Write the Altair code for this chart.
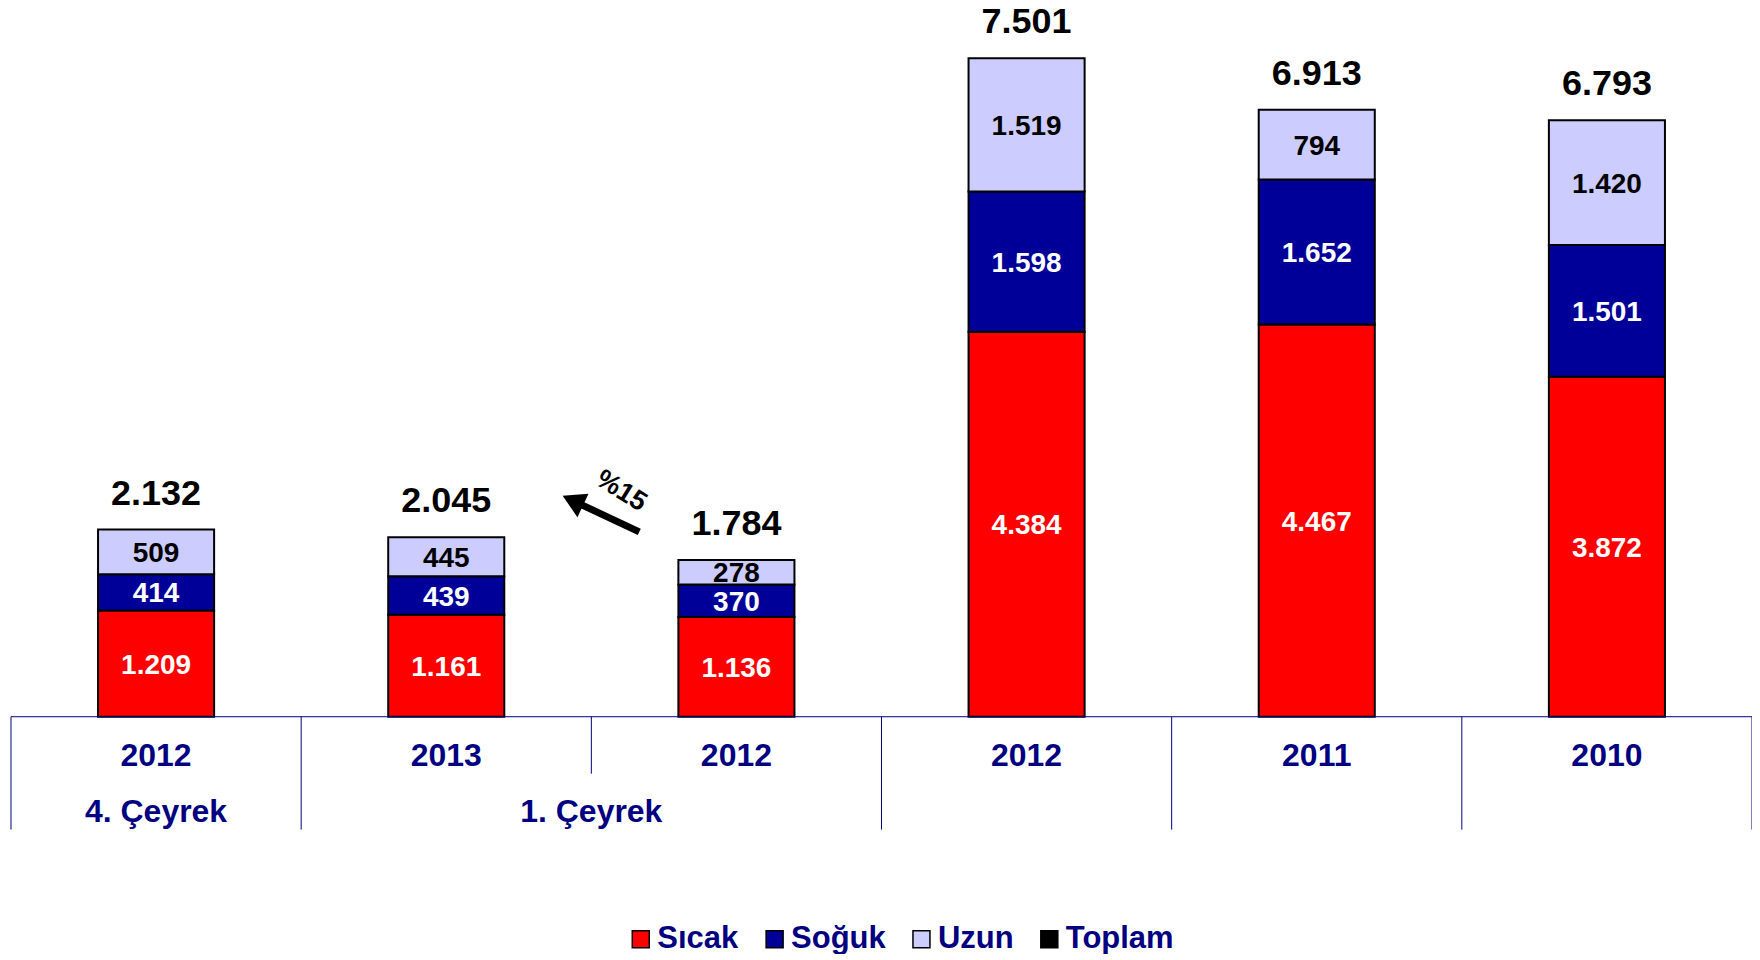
import math
import altair as alt
import pandas as pd

# ---------------- data ----------------
years = ["2012", "2013", "2012", "2012", "2011", "2010"]
periods = ["4. Çeyrek", "1. Çeyrek", "1. Çeyrek", "", "", ""]
sicak = [1209, 1161, 1136, 4384, 4467, 3872]
soguk = [414, 439, 370, 1598, 1652, 1501]
uzun = [509, 445, 278, 1519, 794, 1420]
toplam = [2132, 2045, 1784, 7501, 6913, 6793]
series_names = ["Sıcak", "Soğuk", "Uzun", "Toplam"]
change_label = "%15"

# ---------------- style / layout ----------------
colors = ["#FF0000", "#000099", "#CCCCFF", "#000000"]
NAVY = "#000080"
FONT = "Liberation Sans"
N = len(years)
W, H = 1743, 946
PAD_LEFT = 3
PAGE_LEFT = 8 + PAD_LEFT
PAGE_TOP = 8
BASE = 717          # page y of the zero line
K = 0.0879          # pixels per unit
BAND = W / N
BAR_HALF = 0.2      # half bar width, in bands


def v_at(page_y):
    return (BASE - page_y) / K


def x_at(page_x):
    return (page_x - PAGE_LEFT) / BAND


def fmt(v):
    return f"{v:,}".replace(",", ".")


Y_MAX = v_at(PAGE_TOP)
Y_MIN = v_at(PAGE_TOP + H)

xsc = alt.Scale(domain=[0, N], nice=False, zero=False)
ysc = alt.Scale(domain=[Y_MIN, Y_MAX], nice=False, zero=False)

# ---------------- tables ----------------
rows = []
for i in range(N):
    for j, vals in enumerate([sicak, soguk, uzun]):
        rows.append(dict(idx=i, series=series_names[j], order=j,
                         value=vals[i], label=fmt(vals[i])))
bars_df = pd.DataFrame(rows)

tot_df = pd.DataFrame({"idx": list(range(N)), "total": toplam,
                       "label": [fmt(v) for v in toplam]})

cat_df = pd.DataFrame({"idx": list(range(N)), "year": years})

# separators at band boundaries: short inside a shared period group
sep_rows = []
for b in range(N + 1):
    inner_group = 0 < b < N and periods[b - 1] != "" and periods[b - 1] == periods[b]
    sep_rows.append(dict(pos=b, y0=0, y1=v_at(BASE + (57 if inner_group else 113))))
sep_df = pd.DataFrame(sep_rows)

grp_rows = []
seen = []
for p in periods:
    if p and p not in seen:
        seen.append(p)
        ids = [i for i, q in enumerate(periods) if q == p]
        grp_rows.append(dict(label=p, pos=(ids[0] + ids[-1] + 1) / 2))
grp_df = pd.DataFrame(grp_rows)

# arrow annotation (layout in page px -> data space)
tail = (640, 532)
tip = (563.5, 496)
dxp, dyp = tip[0] - tail[0], tip[1] - tail[1]
L = math.hypot(dxp, dyp)
ux, uy = dxp / L, dyp / L
head_c = (tip[0] - 11 * ux, tip[1] - 11 * uy)
shaft_end = (tip[0] - 14 * ux, tip[1] - 14 * uy)
head_angle = math.degrees(math.atan2(dxp, -dyp)) % 360

shaft_df = pd.DataFrame({"x0": [x_at(tail[0])], "y0": [v_at(tail[1])],
                         "x1": [x_at(shaft_end[0])], "y1": [v_at(shaft_end[1])]})
head_df = pd.DataFrame({"x": [x_at(head_c[0])], "y": [v_at(head_c[1])]})
pct_df = pd.DataFrame({"x": [x_at(622)], "y": [v_at(491)], "t": [change_label]})

# ---------------- layers ----------------
stacked = alt.Chart(bars_df).transform_stack(
    stack="value", groupby=["idx"], as_=["lo", "hi"],
    sort=[alt.SortField("order", order="ascending")]
).transform_calculate(
    xl=f"datum.idx + 0.5 - {BAR_HALF}",
    xr=f"datum.idx + 0.5 + {BAR_HALF}",
    xc="datum.idx + 0.5",
    mid="(datum.lo + datum.hi) / 2",
)

bars = stacked.mark_bar(stroke="black", strokeWidth=2).encode(
    x=alt.X("xl:Q", scale=xsc, axis=None),
    x2="xr:Q",
    y=alt.Y("lo:Q", scale=ysc, axis=None),
    y2="hi:Q",
    color=alt.Color(
        "series:N",
        scale=alt.Scale(domain=series_names, range=colors),
        legend=alt.Legend(
            title=None, orient="none", legendX=615, legendY=916,
            direction="horizontal", symbolType="square", symbolSize=289,
            symbolStrokeColor="black", symbolStrokeWidth=1.5, symbolOpacity=1,
            labelFont=FONT, labelFontSize=31, labelFontWeight="bold",
            labelColor=NAVY, labelOffset=1, columnPadding=20, padding=0,
            labelLimit=0,
        ),
    ),
)

inner = stacked.mark_text(font=FONT, fontSize=28, fontWeight="bold",
                          baseline="middle", align="center", dy=2).encode(
    x=alt.X("xc:Q", scale=xsc, axis=None),
    y=alt.Y("mid:Q", scale=ysc, axis=None),
    text="label:N",
    color=alt.condition("datum.series == 'Uzun'", alt.value("black"), alt.value("white")),
)

totals = alt.Chart(tot_df).transform_calculate(xc="datum.idx + 0.5").mark_text(
    font=FONT, fontSize=36, fontWeight="bold", baseline="alphabetic",
    align="center", dy=-25, color="black").encode(
    x=alt.X("xc:Q", scale=xsc, axis=None),
    y=alt.Y("total:Q", scale=ysc, axis=None),
    text="label:N",
)

axis_line = alt.Chart(pd.DataFrame({"x0": [0], "x1": [N], "y": [0]})).mark_rule(
    color=NAVY, strokeWidth=1).encode(
    x=alt.X("x0:Q", scale=xsc, axis=None), x2="x1:Q",
    y=alt.Y("y:Q", scale=ysc, axis=None),
)

seps = alt.Chart(sep_df).mark_rule(color=NAVY, strokeWidth=1).encode(
    x=alt.X("pos:Q", scale=xsc, axis=None),
    y=alt.Y("y0:Q", scale=ysc, axis=None), y2="y1:Q",
)

year_lbl = alt.Chart(cat_df).transform_calculate(
    xc="datum.idx + 0.5", yy=str(v_at(756))).mark_text(
    font=FONT, fontSize=32, fontWeight="bold", color=NAVY,
    baseline="middle", align="center").encode(
    x=alt.X("xc:Q", scale=xsc, axis=None),
    y=alt.Y("yy:Q", scale=ysc, axis=None),
    text="year:N",
)

grp_lbl = alt.Chart(grp_df).transform_calculate(yy=str(v_at(812))).mark_text(
    font=FONT, fontSize=32, fontWeight="bold", color=NAVY,
    baseline="middle", align="center").encode(
    x=alt.X("pos:Q", scale=xsc, axis=None),
    y=alt.Y("yy:Q", scale=ysc, axis=None),
    text="label:N",
)

shaft = alt.Chart(shaft_df).mark_rule(color="black", strokeWidth=7, strokeCap="butt").encode(
    x=alt.X("x0:Q", scale=xsc, axis=None), x2="x1:Q",
    y=alt.Y("y0:Q", scale=ysc, axis=None), y2="y1:Q",
)

head = alt.Chart(head_df).mark_point(shape="triangle-up", filled=True, size=676,
                                     angle=head_angle, color="black", opacity=1).encode(
    x=alt.X("x:Q", scale=xsc, axis=None),
    y=alt.Y("y:Q", scale=ysc, axis=None),
)

pct = alt.Chart(pct_df).mark_text(font=FONT, fontSize=27, fontWeight="bold",
                                  angle=32, color="black", baseline="middle",
                                  align="center").encode(
    x=alt.X("x:Q", scale=xsc, axis=None),
    y=alt.Y("y:Q", scale=ysc, axis=None),
    text="t:N",
)

chart = alt.layer(
    bars, inner, totals, axis_line, seps, year_lbl, grp_lbl, shaft, head, pct
).properties(
    width=W, height=H,
    padding={"left": PAD_LEFT, "top": 0, "right": 0, "bottom": 0},
    autosize=alt.AutoSizeParams(type="none"),
).configure_view(stroke=None)

chart.save("out.html", embed_options={"renderer": "svg", "actions": False})
